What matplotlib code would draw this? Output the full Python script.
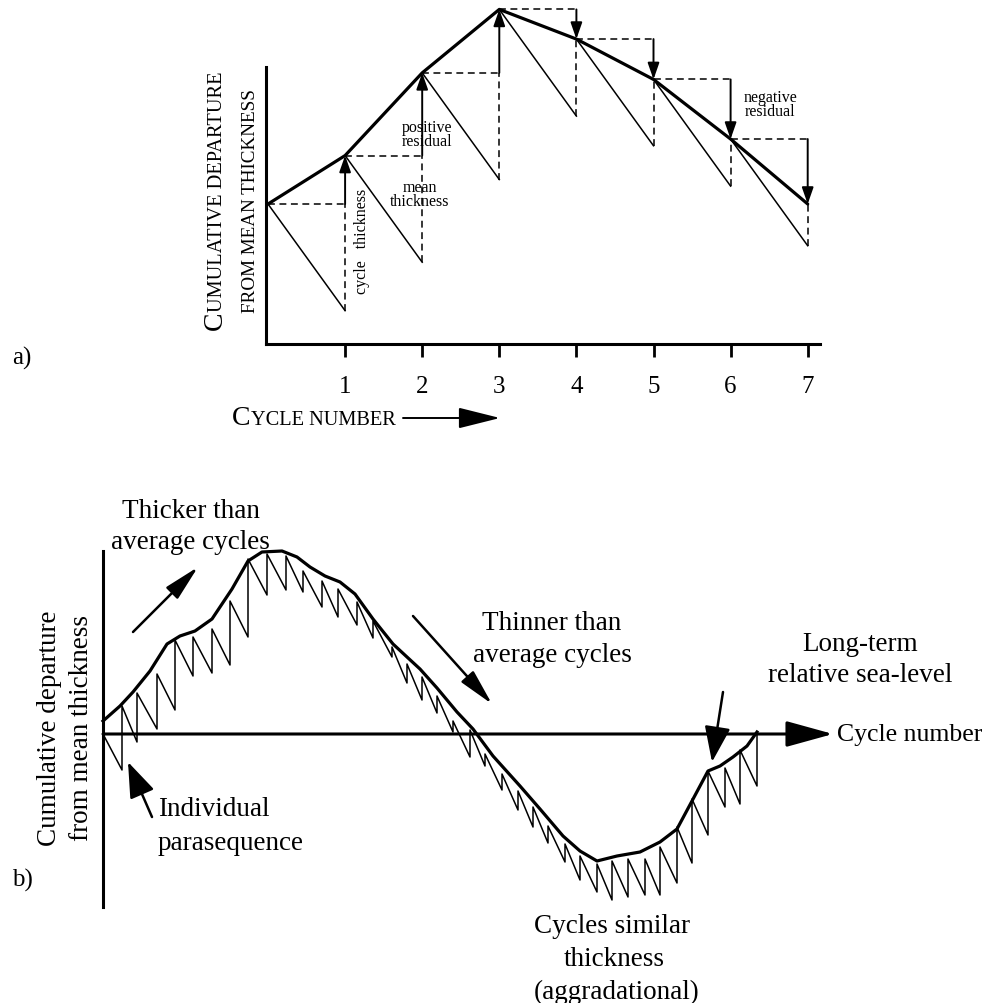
import numpy as np
import matplotlib
matplotlib.use("Agg")
import matplotlib.pyplot as plt

plt.rcParams.update({"font.family": "serif", "font.serif": ["Liberation Serif", "DejaVu Serif"]})
W, H = 986, 1004
K = "black"

# ---------------------------------------------------------------- data
# a) seven cycles, thickness in m (mean is subtracted each cycle)
cycle_no = [1, 2, 3, 4, 5, 6, 7]
cycle_thick = [14.5, 17.7, 15.9, 7.2, 6.2, 4.4, 3.9]

# b) sawtooth: position of each cycle and cumulative departure at its top
tooth_x = [0, 1.9, 3.4, 5.4, 7.2, 9.0, 10.9, 12.7, 14.5, 16.4, 18.3, 20.0, 21.9, 23.5,
           25.4, 27.0, 28.9, 30.4, 31.9, 33.4, 35.0, 36.7, 38.2, 39.9, 41.5, 43.0, 44.5,
           46.2, 47.7, 49.4, 50.9, 52.5, 54.2, 55.7, 57.4, 58.9, 60.5, 62.2, 63.7, 65.4]
tooth_dep = [0.0, 2.8, 4.1, 6.0, 9.4, 9.7, 10.5, 13.3, 17.5, 18.0, 17.8, 16.3, 15.3, 14.5,
             13.2, 11.3, 8.7, 7.0, 5.7, 3.8, 1.3, 0.4, -2.0, -4.0, -5.7, -7.3, -9.2,
             -11.0, -12.2, -13.0, -12.7, -12.5, -12.5, -11.3, -9.3, -6.5, -3.7, -3.4, -1.6, 0.2]
mean_b = 3.6
# long-term relative sea-level curve
sl_x = [0, 1.7, 3.0, 4.7, 6.4, 7.7, 9.2, 10.9, 12.9, 14.5, 15.9, 17.9, 19.4, 20.7, 22.2,
        23.7, 25.2, 27.0, 29.0, 30.4, 31.7, 33.4, 35.4, 37.0, 39.0, 41.7, 43.7, 46.0,
        47.7, 49.4, 51.4, 53.7, 55.7, 57.4, 58.9, 60.5, 61.7, 63.0, 64.4, 65.4]
sl_dep = [1.3, 2.8, 4.2, 6.3, 9.0, 9.8, 10.3, 11.5, 14.5, 17.3, 18.2, 18.3, 17.7, 16.7, 15.8,
          15.2, 14.0, 11.5, 9.0, 7.7, 6.5, 4.6, 2.2, 0.5, -2.2, -5.2, -7.5, -10.2,
          -11.7, -12.7, -12.2, -11.8, -10.8, -9.5, -6.7, -3.7, -3.2, -2.3, -1.2, 0.2]

fig = plt.figure(figsize=(W / 100, H / 100), dpi=100)


def T(px, py, s, **kw):
    kw.setdefault("fontsize", 19.5)
    return fig.text(px / W, 1 - py / H, s, **kw)


def arrow(p0, p1, hl, hw, lw=1.4):
    fig.axes[-1].annotate("", xy=(p1[0], H - p1[1]), xytext=(p0[0], H - p0[1]),
                          xycoords="figure pixels", textcoords="figure pixels",
                          arrowprops=dict(arrowstyle=f"-|>,head_length={hl},head_width={hw}",
                                          mutation_scale=10, lw=lw, color=K,
                                          shrinkA=0, shrinkB=0))


def smallcaps(px, py, big, rest, rot=0, size=14.7):
    """first letter large, remainder in small capitals, placed one after the other"""
    r = fig.canvas.get_renderer()
    t = T(px, py, big, fontsize=20, rotation=rot, rotation_mode="anchor",
          ha="left", va="baseline")
    bb = t.get_window_extent(r)
    if rot == 0:
        T(px + bb.width, py, rest, fontsize=size, ha="left", va="baseline")
    else:
        T(px, py - bb.height, rest, fontsize=size, rotation=rot, rotation_mode="anchor",
          ha="left", va="baseline")


# ---------------------------------------------------------------- panel a
ppx, ppy = 77.1, 10.7                       # pixels per cycle / per metre
axa = fig.add_axes([266 / W, 1 - 345 / H, (820 - 266) / W, (345 - 5) / H])
axa.set_xlim((266 - 268) / ppx, (820 - 268) / ppx)
axa.set_ylim((205 - 345) / ppy, (205 - 5) / ppy)
for s in ("top", "right"):
    axa.spines[s].set_visible(False)
axa.spines["left"].set_bounds((205 - 345) / ppy, (205 - 68) / ppy)
for s in ("left", "bottom"):
    axa.spines[s].set_linewidth(2.2)
axa.set_yticks([])
axa.set_xticks(cycle_no)
axa.tick_params(axis="x", length=9, width=2, pad=13, labelsize=18)
axa.patch.set_visible(False)

mean_a = np.mean(cycle_thick)
dep = np.concatenate([[0.0], np.cumsum(np.array(cycle_thick) - mean_a)])
xs = np.arange(len(dep))
dash = dict(color=K, lw=1.1, ls=(0, (4.5, 3)), clip_on=False)
for i in range(len(cycle_no)):
    low = dep[i] - mean_a
    axa.plot([xs[i], xs[i + 1]], [dep[i], low], color=K, lw=1.1, clip_on=False)
    axa.plot([xs[i], xs[i + 1]], [dep[i], dep[i]], **dash)
    axa.plot([xs[i + 1]] * 2, [low, min(dep[i], dep[i + 1])], **dash)
    axa.annotate("", xy=(xs[i + 1], dep[i + 1]), xytext=(xs[i + 1], dep[i]),
                 arrowprops=dict(arrowstyle="-|>,head_length=1.0,head_width=0.35",
                                 mutation_scale=10, lw=1.4, color=K, shrinkA=0, shrinkB=0),
                 annotation_clip=False)
axa.plot(xs, dep, color=K, lw=2.3, clip_on=False, solid_capstyle="round")

T(427, 135, "positive\nresidual", fontsize=11.5, ha="center", va="center", linespacing=0.85)
T(420, 195, "mean\nthickness", fontsize=11.5, ha="center", va="center", linespacing=0.85)
T(770, 105, "negative\nresidual", fontsize=11.5, ha="center", va="center", linespacing=0.85)
T(362, 241, "cycle   thickness", fontsize=11.5, ha="center", va="center", rotation=90)
T(12, 358, "a)", fontsize=18, ha="left", va="center")
smallcaps(222, 330, "C", "UMULATIVE DEPARTURE", rot=90)
T(255, 313, "FROM MEAN THICKNESS", fontsize=13.8, rotation=90, rotation_mode="anchor",
  ha="left", va="baseline")
smallcaps(232, 425, "C", "YCLE NUMBER")
arrow((403, 419), (500, 419), hl=2.6, hw=0.65)

# ---------------------------------------------------------------- panel b
axb = fig.add_axes([103 / W, 1 - 908 / H, (840 - 103) / W, (908 - 552) / H])
axb.set_xlim(0, (840 - 103) / 10)
axb.set_ylim((735 - 908) / 10, (735 - 552) / 10)
for s in ("top", "right", "bottom"):
    axb.spines[s].set_visible(False)
axb.spines["left"].set_linewidth(2.2)
axb.set_xticks([])
axb.set_yticks([])
axb.patch.set_visible(False)

sx, sy = [tooth_x[0]], [tooth_dep[0]]
for i in range(1, len(tooth_x)):
    sx += [tooth_x[i], tooth_x[i]]
    sy += [tooth_dep[i - 1] - mean_b, tooth_dep[i]]
axb.plot(sx, sy, color=K, lw=1.1, clip_on=False)
axb.plot(sl_x, sl_dep, color=K, lw=2.3, clip_on=False)
axb.annotate("", xy=((833 - 103) / 10, 0), xytext=(0, 0),
             arrowprops=dict(arrowstyle="-|>,head_length=2.9,head_width=0.8",
                             mutation_scale=10, lw=2.2, color=K, shrinkA=0, shrinkB=0),
             annotation_clip=False)

T(191, 512, "Thicker than", ha="center", va="center")
T(190, 543, "average cycles", ha="center", va="center")
arrow((133, 633), (198, 568), hl=2.2, hw=0.5, lw=1.8)
T(552, 623, "Thinner than", ha="center", va="center")
T(552, 656, "average cycles", ha="center", va="center")
arrow((413, 617), (492, 705), hl=2.2, hw=0.5, lw=1.8)
T(860, 645, "Long-term", ha="center", va="center")
T(860, 676, "relative sea-level", ha="center", va="center")
arrow((723, 693), (712, 763), hl=2.2, hw=0.8, lw=1.8)
T(158, 810, "Individual", ha="left", va="center")
T(158, 844, "parasequence", ha="left", va="center")
arrow((152, 818), (128, 763), hl=2.2, hw=0.8, lw=1.8)
T(612, 927, "Cycles similar", ha="center", va="center")
T(614, 960, "thickness", ha="center", va="center")
T(617, 992, "(aggradational)", ha="center", va="center")
T(837, 735, "Cycle number", fontsize=18.5, ha="left", va="center")
T(50, 728, "Cumulative departure", ha="center", va="center", rotation=90)
T(82, 728, "from mean thickness", ha="center", va="center", rotation=90)
T(12, 880, "b)", fontsize=18, ha="left", va="center")

fig.savefig("out.png", dpi=100)
